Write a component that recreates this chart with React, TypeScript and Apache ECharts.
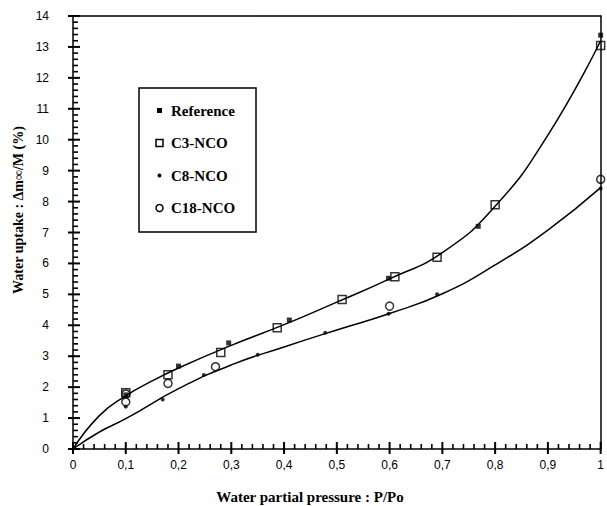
import React, { useEffect, useRef } from 'react';
import * as echarts from 'echarts';

const seriesNames = ['Reference', 'C3-NCO', 'C8-NCO', 'C18-NCO'];

const referenceData: number[][] = [
  [0.1, 1.75], [0.2, 2.68], [0.295, 3.43], [0.41, 4.17], [0.598, 5.52], [0.768, 7.2], [1.0, 13.38],
];
const c3Data: number[][] = [
  [0.1, 1.82], [0.18, 2.4], [0.28, 3.12], [0.387, 3.92], [0.51, 4.83], [0.61, 5.57], [0.69, 6.2], [0.8, 7.9], [1.0, 13.05],
];
const c8Data: number[][] = [
  [0.1, 1.37], [0.17, 1.6], [0.248, 2.39], [0.35, 3.05], [0.478, 3.76], [0.598, 4.37], [0.69, 5.0], [1.0, 8.42],
];
const c18Data: number[][] = [
  [0.1, 1.78], [0.1, 1.52], [0.18, 2.12], [0.27, 2.66], [0.6, 4.62], [1.0, 8.72],
];

const upperCurve: number[][] = [
  [0, 0], [0.05, 1.08], [0.1, 1.72], [0.15, 2.2], [0.2, 2.62], [0.3, 3.35], [0.4, 4.02],
  [0.5, 4.75], [0.6, 5.5], [0.7, 6.35], [0.8, 7.85], [0.9, 10.15], [1.0, 13.2],
];
const lowerCurve: number[][] = [
  [0, 0], [0.05, 0.55], [0.1, 0.98], [0.2, 1.95], [0.3, 2.72],
  [0.4, 3.3], [0.5, 3.85], [0.6, 4.38], [0.7, 5.02], [0.8, 5.95], [0.9, 7.08], [1.0, 8.45],
];

const xTickLabels = ['0', '0,1', '0,2', '0,3', '0,4', '0,5', '0,6', '0,7', '0,8', '0,9', '1'];
const yTickLabels = ['0', '1', '2', '3', '4', '5', '6', '7', '8', '9', '10', '11', '12', '13', '14'];

const xTitle = 'Water partial pressure : P/Po';
const yTitle = 'Water uptake : \u0394m\u221e/M (%)';

const X_MAX = 1;
const Y_MAX = 14;
const MINOR_SPLIT = 5;

export default function App() {
  const ref = useRef<HTMLDivElement>(null);
  useEffect(() => {
    if (!ref.current) return;
    const chart = echarts.init(ref.current, null, { renderer: 'svg' });
    const serif = 'Liberation Serif, Times New Roman, serif';
    const sans = 'Liberation Sans, Arial, sans-serif';
    const black = '#000';

    const legendMarkers = [
      (y: number) => ({ type: 'rect', shape: { x: 18, y: y - 2.5, width: 5, height: 5 }, style: { fill: black } }),
      (y: number) => ({ type: 'rect', shape: { x: 17, y: y - 3.5, width: 7, height: 7 }, style: { fill: 'none', stroke: black, lineWidth: 1.5 } }),
      (y: number) => ({ type: 'circle', shape: { cx: 20.5, cy: y, r: 2 }, style: { fill: black } }),
      (y: number) => ({ type: 'circle', shape: { cx: 20.5, cy: y, r: 3.5 }, style: { fill: 'none', stroke: black, lineWidth: 1.5 } }),
    ];
    const legendChildren: any[] = [
      { type: 'rect', shape: { x: 0, y: 0, width: 117, height: 144 }, style: { fill: '#fff', stroke: black, lineWidth: 1.5 } },
    ];
    seriesNames.forEach((name, i) => {
      const cy = 22.5 + i * 32.5;
      legendChildren.push(legendMarkers[i](cy));
      legendChildren.push({
        type: 'text', x: 32, y: cy,
        style: { text: name, fill: black, font: `bold 15px ${serif}`, textVerticalAlign: 'middle', verticalAlign: 'middle' },
      });
    });

    const borderAxis = {
      type: 'value', splitLine: { show: false }, axisTick: { show: false }, axisLabel: { show: false },
      axisLine: { show: true, onZero: false, lineStyle: { color: black, width: 1.5 } },
    };

    chart.setOption({
      animation: false,
      grid: { left: 73, right: 2, top: 16, bottom: 57 },
      xAxis: [
        {
          type: 'value', min: 0, max: X_MAX, interval: 0.1, position: 'bottom',
          splitLine: { show: false },
          axisLine: { show: true, onZero: false, lineStyle: { color: black, width: 1.5 } },
          axisTick: { show: false },
          axisLabel: {
            show: true, margin: 10, color: black, fontFamily: sans, fontSize: 12,
            formatter: (v: number) => xTickLabels[Math.round(v * 10)] ?? '',
          },
        },
        { ...borderAxis, min: 0, max: X_MAX, position: 'top' },
      ],
      yAxis: [
        {
          type: 'value', min: 0, max: Y_MAX, interval: 1, position: 'left',
          splitLine: { show: false },
          axisLine: { show: true, onZero: false, lineStyle: { color: black, width: 1.5 } },
          axisTick: { show: false },
          axisLabel: {
            show: true, margin: 24, color: black, fontFamily: sans, fontSize: 12,
            formatter: (v: number) => yTickLabels[Math.round(v)] ?? '',
          },
        },
        { ...borderAxis, min: 0, max: Y_MAX, position: 'right' },
      ],
      series: [
        { type: 'line', data: upperCurve, smooth: 0.5, showSymbol: false, symbol: 'none', lineStyle: { color: black, width: 1.5 }, z: 2 },
        { type: 'line', data: lowerCurve, smooth: 0.5, showSymbol: false, symbol: 'none', lineStyle: { color: black, width: 1.5 }, z: 2 },
        { name: seriesNames[0], type: 'scatter', data: referenceData, symbol: 'rect', symbolSize: 5, itemStyle: { color: black }, z: 3, clip: false },
        { name: seriesNames[1], type: 'scatter', data: c3Data, symbol: 'rect', symbolSize: 8, itemStyle: { color: 'none', borderColor: black, borderWidth: 1.5 }, z: 3, clip: false },
        { name: seriesNames[2], type: 'scatter', data: c8Data, symbol: 'circle', symbolSize: 4, itemStyle: { color: black }, z: 3, clip: false },
        { name: seriesNames[3], type: 'scatter', data: c18Data, symbol: 'circle', symbolSize: 8, itemStyle: { color: 'none', borderColor: black, borderWidth: 1.5 }, z: 3, clip: false },
      ],
    });

    // tick marks placed through the axis scales (convertToPixel)
    const ticks: any[] = [];
    const nx = 10 * MINOR_SPLIT;
    for (let i = 0; i <= nx; i++) {
      const v = (i / nx) * X_MAX;
      const p = chart.convertToPixel({ gridIndex: 0 }, [v, 0]) as number[];
      const major = i % MINOR_SPLIT === 0;
      ticks.push({
        type: 'line', z: 50,
        shape: { x1: p[0], y1: major ? p[1] + 5 : p[1], x2: p[0], y2: p[1] - (major ? 7 : 5) },
        style: { stroke: black, lineWidth: major ? 2 : 1.6 },
      });
    }
    const ny = Y_MAX * MINOR_SPLIT;
    for (let i = 0; i <= ny; i++) {
      const v = i / MINOR_SPLIT;
      const p = chart.convertToPixel({ gridIndex: 0 }, [0, v]) as number[];
      const major = i % MINOR_SPLIT === 0;
      ticks.push({
        type: 'line', z: 50,
        shape: { x1: major ? p[0] - 5 : p[0], y1: p[1], x2: p[0] + (major ? 7 : 5), y2: p[1] },
        style: { stroke: black, lineWidth: major ? 2 : 1.6 },
      });
    }

    chart.setOption({
      graphic: [
        {
          type: 'text', x: 310, y: 497,
          style: { text: xTitle, fill: black, font: `bold 15px ${serif}`, textAlign: 'center', textVerticalAlign: 'middle', align: 'center', verticalAlign: 'middle' },
        },
        {
          type: 'text', x: 18, y: 210, rotation: Math.PI / 2,
          style: { text: yTitle, fill: black, font: `bold 14px ${serif}`, textAlign: 'center', textVerticalAlign: 'middle', align: 'center', verticalAlign: 'middle' },
        },
        { type: 'group', x: 139, y: 88, children: legendChildren, z: 100 },
        ...ticks,
      ],
    });
    return () => chart.dispose();
  }, []);
  return <div ref={ref} style={{ width: 607, height: 506, position: 'absolute', left: 0, top: 0 }} />;
}
